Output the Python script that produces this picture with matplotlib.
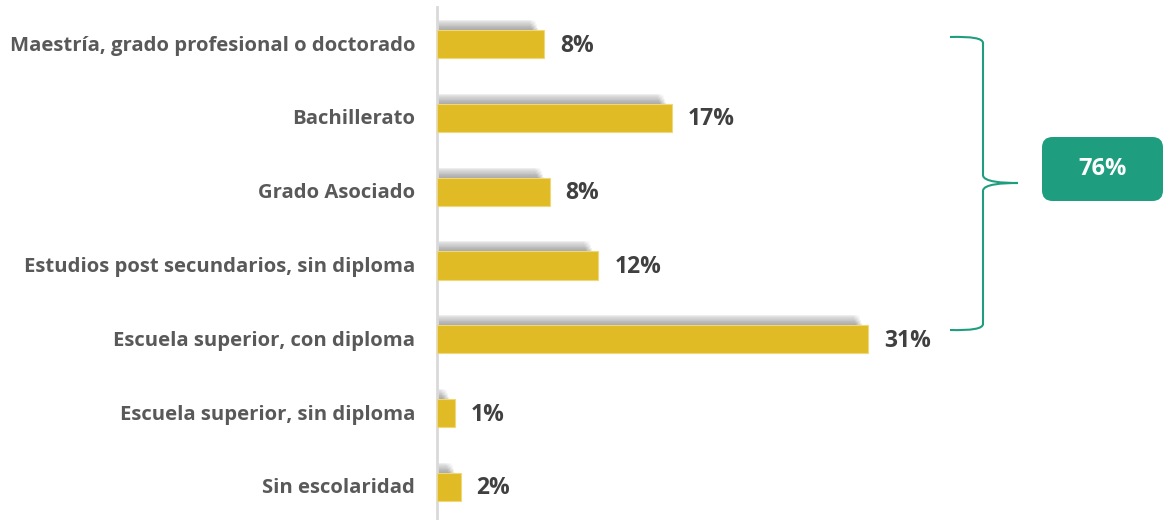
import matplotlib
matplotlib.use("Agg")
import matplotlib.pyplot as plt
from matplotlib.patches import FancyBboxPatch
from matplotlib.path import Path
from matplotlib.patches import PathPatch

categories = [
    "Maestría, grado profesional o doctorado",
    "Bachillerato",
    "Grado Asociado",
    "Estudios post secundarios, sin diploma",
    "Escuela superior, con diploma",
    "Escuela superior, sin diploma",
    "Sin escolaridad",
]
values = [7.7, 16.9, 8.1, 11.6, 31.0, 1.3, 1.7]
bracket_label = "76%"

W, H = 1170, 520
fig = plt.figure(figsize=(W / 100, H / 100), dpi=100)
fig.patch.set_facecolor("white")

ax_left, ax_top = 437, 7
ax = fig.add_axes([ax_left / W, 0, (W - ax_left) / W, (H - ax_top) / H])
px_per_unit = 13.9
ax.set_xlim(0, (W - ax_left) / px_per_unit)
slot = 73.83
top_center = 44
ax.set_ylim(6 + (H - 487) / slot, -(top_center - ax_top) / slot)

gold = "#E1BB25"
bar_h = 28 / slot
ypos = list(range(len(categories)))

# soft blurred shadow above bars: many thin translucent layers
for i in range(10):
    off = 1 + i  # px above the bar top
    for j in range(6):
        shrink = (6 + j * 1.2 + i * 0.3) / px_per_unit
        ax.barh([y - bar_h / 2 - off / slot + 0.5 / slot for y in ypos],
                [max(v - shrink, 0.15) for v in values],
                height=1.0 / slot, left=0, color="#4a4a4a",
                alpha=0.095 * (1 - i / 11), linewidth=0, zorder=1)

ax.barh(ypos, values, height=bar_h, color=gold, edgecolor="#EFD77A",
        linewidth=0.8, zorder=3)

for y, v in zip(ypos, values):
    ax.text(v + 16 / px_per_unit, y + 1.5 / slot, f"{round(v)}%", va="center", ha="left",
            fontsize=16.5, fontweight="bold", color="#404040",
            family=["Open Sans", "DejaVu Sans"], zorder=4)

for y, c in zip(ypos, categories):
    ax.text(-22 / px_per_unit, y + 1.5 / slot, c, va="center", ha="right", fontsize=14.6,
            fontweight="bold", color="#595959", family=["Open Sans", "DejaVu Sans"],
            clip_on=False)

for s in ["top", "right", "bottom"]:
    ax.spines[s].set_visible(False)
ax.spines["left"].set_color("#D9D9D9")
ax.spines["left"].set_linewidth(2)
ax.set_xticks([])
ax.set_yticks([])
ax.patch.set_alpha(0)

# brace in figure pixel coords (y from top)
teal = "#1F9E7F"
def P(x, y):
    return (x / W, 1 - y / H)

x0, xv, xt = 950, 983, 1018
yt, ym, yb = 37, 183, 330
verts = [P(x0, yt), P(xv, yt - 1), P(xv, yt + 6),
         P(xv, ym - 8),
         P(xv, ym - 1), P(xt - 15, ym), P(xt, ym),
         P(xt - 15, ym), P(xv, ym + 1), P(xv, ym + 8),
         P(xv, yb - 6),
         P(xv, yb + 1), P(x0, yb)]
codes = [Path.MOVETO, Path.CURVE3, Path.CURVE3,
         Path.LINETO,
         Path.CURVE4, Path.CURVE4, Path.CURVE4,
         Path.CURVE4, Path.CURVE4, Path.CURVE4,
         Path.LINETO,
         Path.CURVE3, Path.CURVE3]
fig.patches.append(PathPatch(Path(verts, codes), facecolor="none", edgecolor=teal,
                             linewidth=1.5, transform=fig.transFigure))

bx0, bx1, by0, by1 = 1042, 1163, 137, 201
box = FancyBboxPatch((bx0 / W, 1 - by1 / H), (bx1 - bx0) / W, (by1 - by0) / H,
                     boxstyle="round,pad=0,rounding_size=0.009",
                     transform=fig.transFigure, facecolor=teal, edgecolor="none",
                     mutation_aspect=W / H)
fig.patches.append(box)
fig.text((bx0 + bx1) / 2 / W, 1 - (by0 + by1) / 2 / H, bracket_label, color="white",
         fontsize=17, fontweight="bold", ha="center", va="center",
         family=["Open Sans", "DejaVu Sans"])

fig.savefig("out.png", dpi=100, facecolor="white")
